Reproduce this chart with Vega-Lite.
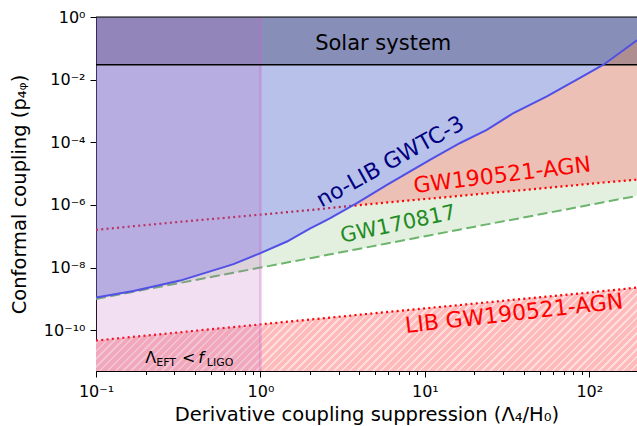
{
  "$schema": "https://vega.github.io/schema/vega-lite/v6.json",
  "width": 541,
  "height": 354,
  "autosize": "none",
  "padding": {"left": 96, "top": 17, "right": 0, "bottom": 55},
  "background": "white",
  "config": {"view": {"stroke": null}, "font": "DejaVu Sans"},
  "datasets": {
    "curves": [
      {"x": 0.1, "blue": 1.1e-9, "green": 1.0e-9, "red": 1.6e-7},
      {"x": 0.169, "blue": 1.8e-9, "green": 1.7e-9, "red": 2.1e-7},
      {"x": 0.325, "blue": 3.85e-9, "green": 3.25e-9, "red": 2.9e-7},
      {"x": 0.686, "blue": 1.29e-8, "green": 6.9e-9, "red": 4.1e-7},
      {"x": 1.0, "blue": 2.9e-8, "green": 1.0e-8, "red": 4.9e-7},
      {"x": 1.45, "blue": 6.8e-8, "green": 1.45e-8, "red": 5.9e-7},
      {"x": 2.01, "blue": 1.8e-7, "green": 2.0e-8, "red": 6.9e-7},
      {"x": 2.31, "blue": 2.6e-7, "green": 2.3e-8, "red": 7.4e-7},
      {"x": 2.66, "blue": 3.8e-7, "green": 2.65e-8, "red": 8.0e-7},
      {"x": 3.6, "blue": 9.4e-7, "green": 3.6e-8, "red": 9.4e-7},
      {"x": 3.86, "blue": 1.15e-6, "green": 3.85e-8, "red": 9.7e-7},
      {"x": 5.88, "blue": 4.4e-6, "green": 5.9e-8, "red": 1.2e-6},
      {"x": 10.8, "blue": 2.8e-5, "green": 1.08e-7, "red": 1.6e-6},
      {"x": 16.4, "blue": 9.5e-5, "green": 1.65e-7, "red": 1.95e-6},
      {"x": 23.8, "blue": 2.5e-4, "green": 2.4e-7, "red": 2.35e-6},
      {"x": 34.6, "blue": 8.6e-4, "green": 3.45e-7, "red": 2.8e-6},
      {"x": 55.2, "blue": 2.9e-3, "green": 5.5e-7, "red": 3.5e-6},
      {"x": 84, "blue": 1.0e-2, "green": 8.4e-7, "red": 4.3e-6},
      {"x": 121.8, "blue": 3.0e-2, "green": 1.22e-6, "red": 5.2e-6},
      {"x": 195, "blue": 0.18, "green": 1.95e-6, "red": 6.4e-6}
    ],
    "lib": [
      {"x": 0.1, "lib": 4.7e-11},
      {"x": 1, "lib": 1.54e-10},
      {"x": 10, "lib": 5.0e-10},
      {"x": 100, "lib": 1.6e-9},
      {"x": 195, "lib": 2.3e-9}
    ],
    "bands": [
      {"band": "solar", "x": 0.1, "x2": 195, "y": 0.03, "y2": 1},
      {"band": "eft", "x": 0.1, "x2": 1, "y": 5e-12, "y2": 1}
    ]
  },
  "layer": [
    {
      "data": {"name": "curves"},
      "mark": {"type": "area", "fill": "#e3f0e0", "clip": true},
      "encoding": {
        "x": {"field": "x", "type": "quantitative", "scale": {"type": "log", "domain": [0.1, 195]},
          "axis": {
            "values": [0.1,0.2,0.3,0.4,0.5,0.6,0.7,0.8,0.9,1,2,3,4,5,6,7,8,9,10,20,30,40,50,60,70,80,90,100],
            "labelExpr": "abs(log(datum.value)/LN10 - round(log(datum.value)/LN10)) > 0.01 ? '' : round(log(datum.value)/LN10) == -1 ? '10⁻¹' : round(log(datum.value)/LN10) == 0 ? '10⁰' : round(log(datum.value)/LN10) == 1 ? '10¹' : '10²'",
            "tickSize": {"condition": {"test": "abs(log(datum.value)/LN10 - round(log(datum.value)/LN10)) < 0.01", "value": 6}, "value": 3.5},
            "grid": false, "domainColor": "black", "tickColor": "black", "labelColor": "black",
            "labelFontSize": 16, "labelPadding": 6, "labelFlush": false, "labelOverlap": false,
            "title": "Derivative coupling suppression (Λ₄/H₀)", "titleFontSize": 19.5, "titleFontWeight": "normal",
            "titleColor": "black", "titlePadding": 6
          }
        },
        "y": {"field": "green", "type": "quantitative", "scale": {"type": "log", "domain": [5e-12, 1]},
          "axis": {
            "values": [1, 0.01, 0.0001, 1e-6, 1e-8, 1e-10],
            "labelExpr": "round(log(datum.value)/LN10) == 0 ? '10⁰' : round(log(datum.value)/LN10) == -2 ? '10⁻²' : round(log(datum.value)/LN10) == -4 ? '10⁻⁴' : round(log(datum.value)/LN10) == -6 ? '10⁻⁶' : round(log(datum.value)/LN10) == -8 ? '10⁻⁸' : '10⁻¹⁰'",
            "tickSize": 6, "grid": false, "domainColor": "black", "tickColor": "black", "labelColor": "black",
            "labelFontSize": 16, "labelPadding": 5, "labelFlush": false, "labelOverlap": false,
            "title": "Conformal coupling  (p₄ᵩ)", "titleFontSize": 19.5, "titleFontWeight": "normal",
            "titleColor": "black", "titlePadding": 14
          }
        },
        "y2": {"field": "blue"}
      }
    },
    {
      "data": {"name": "curves"},
      "transform": [{"filter": "datum.x >= 3.6"}],
      "mark": {"type": "area", "fill": "#ecc0b4", "clip": true},
      "encoding": {
        "x": {"field": "x", "type": "quantitative", "scale": {"type": "log", "domain": [0.1, 195]}},
        "y": {"field": "red", "type": "quantitative", "scale": {"type": "log", "domain": [5e-12, 1]}},
        "y2": {"field": "blue"}
      }
    },
    {
      "data": {"name": "lib"},
      "mark": {"type": "area", "clip": true, "fill": {"gradient": "linear", "x1": 0, "y1": 0, "x2": 1.1273, "y2": 0.1738, "stops": [
        {"offset":0,"color":"#fdd"},{"offset":0.004,"color":"#fdd"},{"offset":0.004,"color":"#fbb"},{"offset":0.0125,"color":"#fbb"},
        {"offset":0.0125,"color":"#fdd"},{"offset":0.0165,"color":"#fdd"},{"offset":0.0165,"color":"#fbb"},{"offset":0.025,"color":"#fbb"},
        {"offset":0.025,"color":"#fdd"},{"offset":0.029,"color":"#fdd"},{"offset":0.029,"color":"#fbb"},{"offset":0.0375,"color":"#fbb"},
        {"offset":0.0375,"color":"#fdd"},{"offset":0.0415,"color":"#fdd"},{"offset":0.0415,"color":"#fbb"},{"offset":0.05,"color":"#fbb"},
        {"offset":0.05,"color":"#fdd"},{"offset":0.054,"color":"#fdd"},{"offset":0.054,"color":"#fbb"},{"offset":0.0625,"color":"#fbb"},
        {"offset":0.0625,"color":"#fdd"},{"offset":0.0665,"color":"#fdd"},{"offset":0.0665,"color":"#fbb"},{"offset":0.075,"color":"#fbb"},
        {"offset":0.075,"color":"#fdd"},{"offset":0.079,"color":"#fdd"},{"offset":0.079,"color":"#fbb"},{"offset":0.0875,"color":"#fbb"},
        {"offset":0.0875,"color":"#fdd"},{"offset":0.0915,"color":"#fdd"},{"offset":0.0915,"color":"#fbb"},{"offset":0.1,"color":"#fbb"},
        {"offset":0.1,"color":"#fdd"},{"offset":0.104,"color":"#fdd"},{"offset":0.104,"color":"#fbb"},{"offset":0.1125,"color":"#fbb"},
        {"offset":0.1125,"color":"#fdd"},{"offset":0.1165,"color":"#fdd"},{"offset":0.1165,"color":"#fbb"},{"offset":0.125,"color":"#fbb"},
        {"offset":0.125,"color":"#fdd"},{"offset":0.129,"color":"#fdd"},{"offset":0.129,"color":"#fbb"},{"offset":0.1375,"color":"#fbb"},
        {"offset":0.1375,"color":"#fdd"},{"offset":0.1415,"color":"#fdd"},{"offset":0.1415,"color":"#fbb"},{"offset":0.15,"color":"#fbb"},
        {"offset":0.15,"color":"#fdd"},{"offset":0.154,"color":"#fdd"},{"offset":0.154,"color":"#fbb"},{"offset":0.1625,"color":"#fbb"},
        {"offset":0.1625,"color":"#fdd"},{"offset":0.1665,"color":"#fdd"},{"offset":0.1665,"color":"#fbb"},{"offset":0.175,"color":"#fbb"},
        {"offset":0.175,"color":"#fdd"},{"offset":0.179,"color":"#fdd"},{"offset":0.179,"color":"#fbb"},{"offset":0.1875,"color":"#fbb"},
        {"offset":0.1875,"color":"#fdd"},{"offset":0.1915,"color":"#fdd"},{"offset":0.1915,"color":"#fbb"},{"offset":0.2,"color":"#fbb"},
        {"offset":0.2,"color":"#fdd"},{"offset":0.204,"color":"#fdd"},{"offset":0.204,"color":"#fbb"},{"offset":0.2125,"color":"#fbb"},
        {"offset":0.2125,"color":"#fdd"},{"offset":0.2165,"color":"#fdd"},{"offset":0.2165,"color":"#fbb"},{"offset":0.225,"color":"#fbb"},
        {"offset":0.225,"color":"#fdd"},{"offset":0.229,"color":"#fdd"},{"offset":0.229,"color":"#fbb"},{"offset":0.2375,"color":"#fbb"},
        {"offset":0.2375,"color":"#fdd"},{"offset":0.2415,"color":"#fdd"},{"offset":0.2415,"color":"#fbb"},{"offset":0.25,"color":"#fbb"},
        {"offset":0.25,"color":"#fdd"},{"offset":0.254,"color":"#fdd"},{"offset":0.254,"color":"#fbb"},{"offset":0.2625,"color":"#fbb"},
        {"offset":0.2625,"color":"#fdd"},{"offset":0.2665,"color":"#fdd"},{"offset":0.2665,"color":"#fbb"},{"offset":0.275,"color":"#fbb"},
        {"offset":0.275,"color":"#fdd"},{"offset":0.279,"color":"#fdd"},{"offset":0.279,"color":"#fbb"},{"offset":0.2875,"color":"#fbb"},
        {"offset":0.2875,"color":"#fdd"},{"offset":0.2915,"color":"#fdd"},{"offset":0.2915,"color":"#fbb"},{"offset":0.3,"color":"#fbb"},
        {"offset":0.3,"color":"#fdd"},{"offset":0.304,"color":"#fdd"},{"offset":0.304,"color":"#fbb"},{"offset":0.3125,"color":"#fbb"},
        {"offset":0.3125,"color":"#fdd"},{"offset":0.3165,"color":"#fdd"},{"offset":0.3165,"color":"#fbb"},{"offset":0.325,"color":"#fbb"},
        {"offset":0.325,"color":"#fdd"},{"offset":0.329,"color":"#fdd"},{"offset":0.329,"color":"#fbb"},{"offset":0.3375,"color":"#fbb"},
        {"offset":0.3375,"color":"#fdd"},{"offset":0.3415,"color":"#fdd"},{"offset":0.3415,"color":"#fbb"},{"offset":0.35,"color":"#fbb"},
        {"offset":0.35,"color":"#fdd"},{"offset":0.354,"color":"#fdd"},{"offset":0.354,"color":"#fbb"},{"offset":0.3625,"color":"#fbb"},
        {"offset":0.3625,"color":"#fdd"},{"offset":0.3665,"color":"#fdd"},{"offset":0.3665,"color":"#fbb"},{"offset":0.375,"color":"#fbb"},
        {"offset":0.375,"color":"#fdd"},{"offset":0.379,"color":"#fdd"},{"offset":0.379,"color":"#fbb"},{"offset":0.3875,"color":"#fbb"},
        {"offset":0.3875,"color":"#fdd"},{"offset":0.3915,"color":"#fdd"},{"offset":0.3915,"color":"#fbb"},{"offset":0.4,"color":"#fbb"},
        {"offset":0.4,"color":"#fdd"},{"offset":0.404,"color":"#fdd"},{"offset":0.404,"color":"#fbb"},{"offset":0.4125,"color":"#fbb"},
        {"offset":0.4125,"color":"#fdd"},{"offset":0.4165,"color":"#fdd"},{"offset":0.4165,"color":"#fbb"},{"offset":0.425,"color":"#fbb"},
        {"offset":0.425,"color":"#fdd"},{"offset":0.429,"color":"#fdd"},{"offset":0.429,"color":"#fbb"},{"offset":0.4375,"color":"#fbb"},
        {"offset":0.4375,"color":"#fdd"},{"offset":0.4415,"color":"#fdd"},{"offset":0.4415,"color":"#fbb"},{"offset":0.45,"color":"#fbb"},
        {"offset":0.45,"color":"#fdd"},{"offset":0.454,"color":"#fdd"},{"offset":0.454,"color":"#fbb"},{"offset":0.4625,"color":"#fbb"},
        {"offset":0.4625,"color":"#fdd"},{"offset":0.4665,"color":"#fdd"},{"offset":0.4665,"color":"#fbb"},{"offset":0.475,"color":"#fbb"},
        {"offset":0.475,"color":"#fdd"},{"offset":0.479,"color":"#fdd"},{"offset":0.479,"color":"#fbb"},{"offset":0.4875,"color":"#fbb"},
        {"offset":0.4875,"color":"#fdd"},{"offset":0.4915,"color":"#fdd"},{"offset":0.4915,"color":"#fbb"},{"offset":0.5,"color":"#fbb"},
        {"offset":0.5,"color":"#fdd"},{"offset":0.504,"color":"#fdd"},{"offset":0.504,"color":"#fbb"},{"offset":0.5125,"color":"#fbb"},
        {"offset":0.5125,"color":"#fdd"},{"offset":0.5165,"color":"#fdd"},{"offset":0.5165,"color":"#fbb"},{"offset":0.525,"color":"#fbb"},
        {"offset":0.525,"color":"#fdd"},{"offset":0.529,"color":"#fdd"},{"offset":0.529,"color":"#fbb"},{"offset":0.5375,"color":"#fbb"},
        {"offset":0.5375,"color":"#fdd"},{"offset":0.5415,"color":"#fdd"},{"offset":0.5415,"color":"#fbb"},{"offset":0.55,"color":"#fbb"},
        {"offset":0.55,"color":"#fdd"},{"offset":0.554,"color":"#fdd"},{"offset":0.554,"color":"#fbb"},{"offset":0.5625,"color":"#fbb"},
        {"offset":0.5625,"color":"#fdd"},{"offset":0.5665,"color":"#fdd"},{"offset":0.5665,"color":"#fbb"},{"offset":0.575,"color":"#fbb"},
        {"offset":0.575,"color":"#fdd"},{"offset":0.579,"color":"#fdd"},{"offset":0.579,"color":"#fbb"},{"offset":0.5875,"color":"#fbb"},
        {"offset":0.5875,"color":"#fdd"},{"offset":0.5915,"color":"#fdd"},{"offset":0.5915,"color":"#fbb"},{"offset":0.6,"color":"#fbb"},
        {"offset":0.6,"color":"#fdd"},{"offset":0.604,"color":"#fdd"},{"offset":0.604,"color":"#fbb"},{"offset":0.6125,"color":"#fbb"},
        {"offset":0.6125,"color":"#fdd"},{"offset":0.6165,"color":"#fdd"},{"offset":0.6165,"color":"#fbb"},{"offset":0.625,"color":"#fbb"},
        {"offset":0.625,"color":"#fdd"},{"offset":0.629,"color":"#fdd"},{"offset":0.629,"color":"#fbb"},{"offset":0.6375,"color":"#fbb"},
        {"offset":0.6375,"color":"#fdd"},{"offset":0.6415,"color":"#fdd"},{"offset":0.6415,"color":"#fbb"},{"offset":0.65,"color":"#fbb"},
        {"offset":0.65,"color":"#fdd"},{"offset":0.654,"color":"#fdd"},{"offset":0.654,"color":"#fbb"},{"offset":0.6625,"color":"#fbb"},
        {"offset":0.6625,"color":"#fdd"},{"offset":0.6665,"color":"#fdd"},{"offset":0.6665,"color":"#fbb"},{"offset":0.675,"color":"#fbb"},
        {"offset":0.675,"color":"#fdd"},{"offset":0.679,"color":"#fdd"},{"offset":0.679,"color":"#fbb"},{"offset":0.6875,"color":"#fbb"},
        {"offset":0.6875,"color":"#fdd"},{"offset":0.6915,"color":"#fdd"},{"offset":0.6915,"color":"#fbb"},{"offset":0.7,"color":"#fbb"},
        {"offset":0.7,"color":"#fdd"},{"offset":0.704,"color":"#fdd"},{"offset":0.704,"color":"#fbb"},{"offset":0.7125,"color":"#fbb"},
        {"offset":0.7125,"color":"#fdd"},{"offset":0.7165,"color":"#fdd"},{"offset":0.7165,"color":"#fbb"},{"offset":0.725,"color":"#fbb"},
        {"offset":0.725,"color":"#fdd"},{"offset":0.729,"color":"#fdd"},{"offset":0.729,"color":"#fbb"},{"offset":0.7375,"color":"#fbb"},
        {"offset":0.7375,"color":"#fdd"},{"offset":0.7415,"color":"#fdd"},{"offset":0.7415,"color":"#fbb"},{"offset":0.75,"color":"#fbb"},
        {"offset":0.75,"color":"#fdd"},{"offset":0.754,"color":"#fdd"},{"offset":0.754,"color":"#fbb"},{"offset":0.7625,"color":"#fbb"},
        {"offset":0.7625,"color":"#fdd"},{"offset":0.7665,"color":"#fdd"},{"offset":0.7665,"color":"#fbb"},{"offset":0.775,"color":"#fbb"},
        {"offset":0.775,"color":"#fdd"},{"offset":0.779,"color":"#fdd"},{"offset":0.779,"color":"#fbb"},{"offset":0.7875,"color":"#fbb"},
        {"offset":0.7875,"color":"#fdd"},{"offset":0.7915,"color":"#fdd"},{"offset":0.7915,"color":"#fbb"},{"offset":0.8,"color":"#fbb"},
        {"offset":0.8,"color":"#fdd"},{"offset":0.804,"color":"#fdd"},{"offset":0.804,"color":"#fbb"},{"offset":0.8125,"color":"#fbb"},
        {"offset":0.8125,"color":"#fdd"},{"offset":0.8165,"color":"#fdd"},{"offset":0.8165,"color":"#fbb"},{"offset":0.825,"color":"#fbb"},
        {"offset":0.825,"color":"#fdd"},{"offset":0.829,"color":"#fdd"},{"offset":0.829,"color":"#fbb"},{"offset":0.8375,"color":"#fbb"},
        {"offset":0.8375,"color":"#fdd"},{"offset":0.8415,"color":"#fdd"},{"offset":0.8415,"color":"#fbb"},{"offset":0.85,"color":"#fbb"},
        {"offset":0.85,"color":"#fdd"},{"offset":0.854,"color":"#fdd"},{"offset":0.854,"color":"#fbb"},{"offset":0.8625,"color":"#fbb"},
        {"offset":0.8625,"color":"#fdd"},{"offset":0.8665,"color":"#fdd"},{"offset":0.8665,"color":"#fbb"},{"offset":0.875,"color":"#fbb"},
        {"offset":0.875,"color":"#fdd"},{"offset":0.879,"color":"#fdd"},{"offset":0.879,"color":"#fbb"},{"offset":0.8875,"color":"#fbb"},
        {"offset":0.8875,"color":"#fdd"},{"offset":0.8915,"color":"#fdd"},{"offset":0.8915,"color":"#fbb"},{"offset":0.9,"color":"#fbb"},
        {"offset":0.9,"color":"#fdd"},{"offset":0.904,"color":"#fdd"},{"offset":0.904,"color":"#fbb"},{"offset":0.9125,"color":"#fbb"},
        {"offset":0.9125,"color":"#fdd"},{"offset":0.9165,"color":"#fdd"},{"offset":0.9165,"color":"#fbb"},{"offset":0.925,"color":"#fbb"},
        {"offset":0.925,"color":"#fdd"},{"offset":0.929,"color":"#fdd"},{"offset":0.929,"color":"#fbb"},{"offset":0.9375,"color":"#fbb"},
        {"offset":0.9375,"color":"#fdd"},{"offset":0.9415,"color":"#fdd"},{"offset":0.9415,"color":"#fbb"},{"offset":0.95,"color":"#fbb"},
        {"offset":0.95,"color":"#fdd"},{"offset":0.954,"color":"#fdd"},{"offset":0.954,"color":"#fbb"},{"offset":0.9625,"color":"#fbb"},
        {"offset":0.9625,"color":"#fdd"},{"offset":0.9665,"color":"#fdd"},{"offset":0.9665,"color":"#fbb"},{"offset":0.975,"color":"#fbb"},
        {"offset":0.975,"color":"#fdd"},{"offset":0.979,"color":"#fdd"},{"offset":0.979,"color":"#fbb"},{"offset":0.9875,"color":"#fbb"},
        {"offset":0.9875,"color":"#fdd"},{"offset":0.9915,"color":"#fdd"},{"offset":0.9915,"color":"#fbb"},{"offset":1,"color":"#fbb"}
      ]}},
      "encoding": {
        "x": {"field": "x", "type": "quantitative", "scale": {"type": "log", "domain": [0.1, 195]}},
        "y": {"field": "lib", "type": "quantitative", "scale": {"type": "log", "domain": [5e-12, 1]}},
        "y2": {"datum": 5e-12}
      }
    },
    {
      "data": {"name": "curves"},
      "mark": {"type": "line", "stroke": "#6db56d", "strokeWidth": 2, "strokeDash": [10, 4.5], "clip": true},
      "encoding": {
        "x": {"field": "x", "type": "quantitative", "scale": {"type": "log", "domain": [0.1, 195]}},
        "y": {"field": "green", "type": "quantitative", "scale": {"type": "log", "domain": [5e-12, 1]}}
      }
    },
    {
      "data": {"name": "curves"},
      "mark": {"type": "line", "stroke": "#ff0000", "strokeWidth": 2.2, "strokeDash": [2, 3.3], "clip": true},
      "encoding": {
        "x": {"field": "x", "type": "quantitative", "scale": {"type": "log", "domain": [0.1, 195]}},
        "y": {"field": "red", "type": "quantitative", "scale": {"type": "log", "domain": [5e-12, 1]}}
      }
    },
    {
      "data": {"name": "lib"},
      "mark": {"type": "line", "stroke": "#ff0000", "strokeWidth": 2.2, "strokeDash": [2, 3.3], "clip": true},
      "encoding": {
        "x": {"field": "x", "type": "quantitative", "scale": {"type": "log", "domain": [0.1, 195]}},
        "y": {"field": "lib", "type": "quantitative", "scale": {"type": "log", "domain": [5e-12, 1]}}
      }
    },
    {
      "data": {"name": "curves"},
      "mark": {"type": "area", "fill": "#4b64ca", "fillOpacity": 0.4, "clip": true},
      "encoding": {
        "x": {"field": "x", "type": "quantitative", "scale": {"type": "log", "domain": [0.1, 195]}},
        "y": {"field": "blue", "type": "quantitative", "scale": {"type": "log", "domain": [5e-12, 1]}},
        "y2": {"datum": 1}
      }
    },
    {
      "data": {"name": "bands"},
      "transform": [{"filter": "datum.band == 'solar'"}],
      "mark": {"type": "rect", "fill": "#000030", "fillOpacity": 0.26, "clip": true},
      "encoding": {
        "x": {"field": "x", "type": "quantitative", "scale": {"type": "log", "domain": [0.1, 195]}},
        "x2": {"field": "x2"},
        "y": {"field": "y", "type": "quantitative", "scale": {"type": "log", "domain": [5e-12, 1]}},
        "y2": {"field": "y2"}
      }
    },
    {
      "data": {"name": "bands"},
      "transform": [{"filter": "datum.band == 'eft'"}],
      "mark": {"type": "rect", "fill": "#c060c0", "fillOpacity": 0.2, "clip": true},
      "encoding": {
        "x": {"field": "x", "type": "quantitative", "scale": {"type": "log", "domain": [0.1, 195]}},
        "x2": {"field": "x2"},
        "y": {"field": "y", "type": "quantitative", "scale": {"type": "log", "domain": [5e-12, 1]}},
        "y2": {"field": "y2"}
      }
    },
    {
      "data": {"name": "bands"},
      "transform": [{"filter": "datum.band == 'eft'"}],
      "mark": {"type": "rule", "stroke": "#c864c8", "strokeOpacity": 0.35, "strokeWidth": 2.5, "clip": true},
      "encoding": {
        "x": {"field": "x2", "type": "quantitative", "scale": {"type": "log", "domain": [0.1, 195]}},
        "y": {"field": "y", "type": "quantitative", "scale": {"type": "log", "domain": [5e-12, 1]}},
        "y2": {"field": "y2"}
      }
    },
    {
      "data": {"name": "bands"},
      "transform": [{"filter": "datum.band == 'solar'"}],
      "mark": {"type": "rule", "stroke": "#000000", "strokeWidth": 1.6},
      "encoding": {
        "x": {"field": "x", "type": "quantitative", "scale": {"type": "log", "domain": [0.1, 195]}},
        "x2": {"field": "x2"},
        "y": {"field": "y", "type": "quantitative", "scale": {"type": "log", "domain": [5e-12, 1]}}
      }
    },
    {
      "data": {"name": "bands"},
      "transform": [{"filter": "datum.band == 'solar'"}],
      "mark": {"type": "rule", "stroke": "#000000", "strokeWidth": 1.2},
      "encoding": {
        "x": {"field": "x", "type": "quantitative", "scale": {"type": "log", "domain": [0.1, 195]}},
        "x2": {"field": "x2"},
        "y": {"field": "y2", "type": "quantitative", "scale": {"type": "log", "domain": [5e-12, 1]}}
      }
    },
    {
      "data": {"name": "curves"},
      "mark": {"type": "line", "stroke": "#5050e6", "strokeWidth": 2, "clip": true},
      "encoding": {
        "x": {"field": "x", "type": "quantitative", "scale": {"type": "log", "domain": [0.1, 195]}},
        "y": {"field": "blue", "type": "quantitative", "scale": {"type": "log", "domain": [5e-12, 1]}}
      }
    },
    {
      "data": {"values": [{"x": 5.58, "y": 0.0914, "t": "Solar system"}]},
      "mark": {"type": "text", "fontSize": 21, "color": "black", "align": "center", "baseline": "alphabetic"},
      "encoding": {
        "x": {"field": "x", "type": "quantitative", "scale": {"type": "log", "domain": [0.1, 195]}},
        "y": {"field": "y", "type": "quantitative", "scale": {"type": "log", "domain": [5e-12, 1]}},
        "text": {"field": "t"}
      }
    },
    {
      "data": {"values": [{"x": 6.15, "y": 2.4e-5, "t": "no-LIB GWTC-3"}]},
      "mark": {"type": "text", "fontSize": 22, "color": "#000080", "align": "center", "baseline": "middle", "angle": 331},
      "encoding": {
        "x": {"field": "x", "type": "quantitative", "scale": {"type": "log", "domain": [0.1, 195]}},
        "y": {"field": "y", "type": "quantitative", "scale": {"type": "log", "domain": [5e-12, 1]}},
        "text": {"field": "t"}
      }
    },
    {
      "data": {"values": [{"x": 29.5, "y": 8.9e-6, "t": "GW190521-AGN"}]},
      "mark": {"type": "text", "fontSize": 22, "color": "#ff0000", "align": "center", "baseline": "middle", "angle": 353},
      "encoding": {
        "x": {"field": "x", "type": "quantitative", "scale": {"type": "log", "domain": [0.1, 195]}},
        "y": {"field": "y", "type": "quantitative", "scale": {"type": "log", "domain": [5e-12, 1]}},
        "text": {"field": "t"}
      }
    },
    {
      "data": {"values": [{"x": 6.88, "y": 2.32e-7, "t": "GW170817"}]},
      "mark": {"type": "text", "fontSize": 21, "color": "#228b22", "align": "center", "baseline": "middle", "angle": 348},
      "encoding": {
        "x": {"field": "x", "type": "quantitative", "scale": {"type": "log", "domain": [0.1, 195]}},
        "y": {"field": "y", "type": "quantitative", "scale": {"type": "log", "domain": [5e-12, 1]}},
        "text": {"field": "t"}
      }
    },
    {
      "data": {"values": [{"x": 34.9, "y": 3.4e-10, "t": "LIB GW190521-AGN"}]},
      "mark": {"type": "text", "fontSize": 22, "color": "#ff0000", "align": "center", "baseline": "middle", "angle": 353.5},
      "encoding": {
        "x": {"field": "x", "type": "quantitative", "scale": {"type": "log", "domain": [0.1, 195]}},
        "y": {"field": "y", "type": "quantitative", "scale": {"type": "log", "domain": [5e-12, 1]}},
        "text": {"field": "t"}
      }
    },
    {
      "data": {"values": [{"x": 0.1994, "y": 8.8e-12, "t": "Λ"}, {"x": 0.333, "y": 8.8e-12, "t": "<"}]},
      "mark": {"type": "text", "fontSize": 16, "color": "black", "align": "left", "baseline": "alphabetic"},
      "encoding": {
        "x": {"field": "x", "type": "quantitative", "scale": {"type": "log", "domain": [0.1, 195]}},
        "y": {"field": "y", "type": "quantitative", "scale": {"type": "log", "domain": [5e-12, 1]}},
        "text": {"field": "t"}
      }
    },
    {
      "data": {"values": [{"x": 0.419, "y": 8.8e-12, "t": "f"}]},
      "mark": {"type": "text", "fontSize": 16, "fontStyle": "italic", "color": "black", "align": "left", "baseline": "alphabetic"},
      "encoding": {
        "x": {"field": "x", "type": "quantitative", "scale": {"type": "log", "domain": [0.1, 195]}},
        "y": {"field": "y", "type": "quantitative", "scale": {"type": "log", "domain": [5e-12, 1]}},
        "text": {"field": "t"}
      }
    },
    {
      "data": {"values": [{"x": 0.2326, "y": 7.2e-12, "t": "EFT"}, {"x": 0.4718, "y": 7.2e-12, "t": "LIGO"}]},
      "mark": {"type": "text", "fontSize": 11, "color": "black", "align": "left", "baseline": "alphabetic"},
      "encoding": {
        "x": {"field": "x", "type": "quantitative", "scale": {"type": "log", "domain": [0.1, 195]}},
        "y": {"field": "y", "type": "quantitative", "scale": {"type": "log", "domain": [5e-12, 1]}},
        "text": {"field": "t"}
      }
    }
  ]
}
